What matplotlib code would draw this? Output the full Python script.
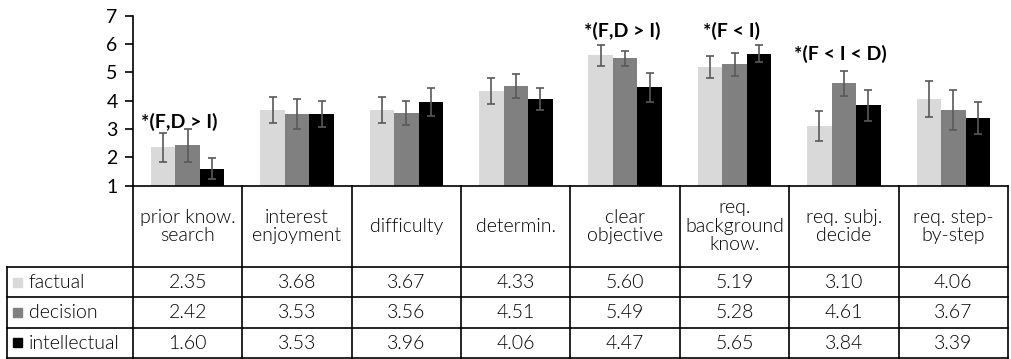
import matplotlib.pyplot as plt
import numpy as np

# ── Data ───────────────────────────────────────────────────────────────────────
categories = ["prior know.\nsearch", "interest\nenjoyment", "difficulty", "determin.",
              "clear\nobjective", "req.\nbackground\nknow.", "req. subj.\ndecide",
              "req. step-\nby-step"]
series = ["factual", "decision", "intellectual"]
factual      = [2.35, 3.68, 3.67, 4.33, 5.60, 5.19, 3.10, 4.06]
decision     = [2.42, 3.53, 3.56, 4.51, 5.49, 5.28, 4.61, 3.67]
intellectual = [1.60, 3.53, 3.96, 4.06, 4.47, 5.65, 3.84, 3.39]
err_factual      = [0.51, 0.45, 0.47, 0.46, 0.37, 0.40, 0.52, 0.64]
err_decision     = [0.57, 0.53, 0.43, 0.43, 0.27, 0.40, 0.45, 0.72]
err_intellectual = [0.38, 0.45, 0.49, 0.40, 0.51, 0.30, 0.55, 0.58]
notes = ["*(F,D > I)", "*(F,D > I)", "*(F < I)", "*(F < I < D)"]
note_cat = [0, 4, 5, 6]
note_y = [3.25, 6.46, 6.46, 5.65]

colors = ["#D9D9D9", "#808080", "#000000"]
values = [factual, decision, intellectual]
errors = [err_factual, err_decision, err_intellectual]

plt.rcParams['font.family'] = ['Lato', 'DejaVu Sans']

W, H = 1011, 359
fig = plt.figure(figsize=(W / 100, H / 100), dpi=100)

def px_axes(x0, y0, x1, y1):
    return fig.add_axes([x0 / W, 1 - y1 / H, (x1 - x0) / W, (y1 - y0) / H])

# ── Bar chart ──────────────────────────────────────────────────────────────────
ax = px_axes(133, 15.7, 1008, 185.7)
n = len(categories)
x = np.arange(n) + 0.5
bw = 0.224
for k in range(3):
    ax.bar(x + (k - 1) * bw, values[k], bw, color=colors[k], zorder=2)
    ax.errorbar(x + (k - 1) * bw, values[k], yerr=errors[k], fmt='none',
                ecolor='#595959', elinewidth=1.2, capsize=3, capthick=1.2, zorder=3)

for c, yv, t in zip(note_cat, note_y, notes):
    off = -0.08 if c == 0 else -0.03
    ax.text(c + 0.5 + off, yv, t, ha='center', va='center', fontsize=14,
            fontweight='bold', color='black')

ax.set_xlim(0, n)
ax.set_ylim(1, 7)
ax.set_yticks(range(1, 8))
ax.set_xticks([])
for s in ['top', 'right', 'bottom']:
    ax.spines[s].set_visible(False)
ax.spines['left'].set_linewidth(1.2)
ax.tick_params(axis='y', length=6, width=1.2, labelsize=14, pad=5, direction='out')

# ── Data table ─────────────────────────────────────────────────────────────────
tx0 = (7 - 133) / 109.4
tax = px_axes(7, 185.7, 1008, 358)
tax.set_xlim(tx0, n)
tax.set_ylim(172.3, 0)
tax.axis('off')

row_y = [81.3, 111.6, 141.9, 172.3]
lw = 1.2
tax.plot([0, n], [0, 0], color='black', lw=lw, clip_on=False)
for yy in row_y:
    tax.plot([tx0, n], [yy, yy], color='black', lw=lw, clip_on=False)
for i in range(n + 1):
    tax.plot([i, i], [0, 172.3], color='black', lw=lw, clip_on=False)
tax.plot([tx0, tx0], [row_y[0], row_y[-1]], color='black', lw=lw, clip_on=False)

fs = 14
for i, cat in enumerate(categories):
    tax.text(i + 0.5, row_y[0] / 2, cat, ha='center', va='center', fontsize=fs,
             linespacing=1.1, fontweight=300)

for k in range(3):
    yc = (row_y[k] + row_y[k + 1]) / 2
    tax.add_patch(plt.Rectangle((tx0 + 0.055, yc - 4.5), 0.08, 9, color=colors[k],
                                clip_on=False))
    tax.text(tx0 + 0.2, yc + 0.5, series[k], ha='left', va='center', fontsize=fs,
             fontweight=300)
    for i in range(n):
        tax.text(i + 0.5, yc + 0.5, f"{values[k][i]:.2f}", ha='center', va='center',
                 fontsize=fs, fontweight=300)

plt.savefig("out.png", dpi=100)
plt.close(fig)
